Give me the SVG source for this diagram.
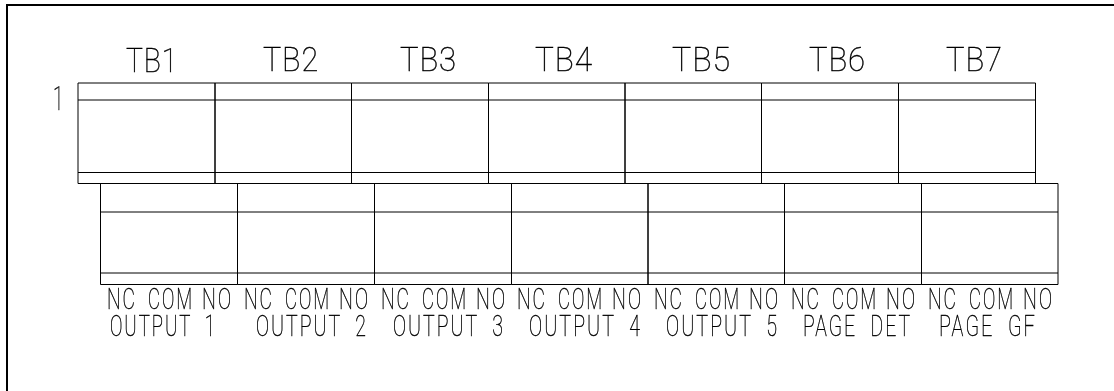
<svg xmlns="http://www.w3.org/2000/svg" width="1114" height="391" viewBox="0 0 1114 391">
<style>
.b{fill:none;stroke:#000;stroke-width:1}
.f{fill:none;stroke:#000;stroke-width:2}
text{font-family:Roboto,"Liberation Sans",sans-serif;font-weight:100;fill:#000;stroke:#000;stroke-width:.45;filter:url(#gray)}
.t{font-size:34px;letter-spacing:1px}
.s{font-size:29px;letter-spacing:3px;word-spacing:10px}
</style>
<defs><filter id="gray" x="-20%" y="-20%" width="140%" height="140%" color-interpolation-filters="sRGB"><feOffset dx="0" dy="0"/></filter></defs>
<rect width="1114" height="391" fill="#fff"/>
<g id="frame"><path class="f" d="M1114 5H7V391"/></g>
<text id="row-label" class="t" x="53" y="110" textLength="11" lengthAdjust="spacingAndGlyphs">1</text>
<g id="connectors"/>
<g id="TB1"><path class="b" d="M78 83H215V183.5H78ZM78 100H215M78 172.5H215"/><text class="t" x="126" y="72" textLength="52" lengthAdjust="spacingAndGlyphs">TB1</text></g>
<g id="TB2"><path class="b" d="M215 83H351.5V183.5H215ZM215 100H351.5M215 172.5H351.5"/><text class="t" x="263" y="71" textLength="56" lengthAdjust="spacingAndGlyphs">TB2</text></g>
<g id="TB3"><path class="b" d="M351.5 83H488.5V183.5H351.5ZM351.5 100H488.5M351.5 172.5H488.5"/><text class="t" x="400" y="71" textLength="57" lengthAdjust="spacingAndGlyphs">TB3</text></g>
<g id="TB4"><path class="b" d="M488.5 83H625V183.5H488.5ZM488.5 100H625M488.5 172.5H625"/><text class="t" x="535" y="71" textLength="58" lengthAdjust="spacingAndGlyphs">TB4</text></g>
<g id="TB5"><path class="b" d="M625 83H761.5V183.5H625ZM625 100H761.5M625 172.5H761.5"/><text class="t" x="672" y="71" textLength="59" lengthAdjust="spacingAndGlyphs">TB5</text></g>
<g id="TB6"><path class="b" d="M761.5 83H898.5V183.5H761.5ZM761.5 100H898.5M761.5 172.5H898.5"/><text class="t" x="809" y="71" textLength="57" lengthAdjust="spacingAndGlyphs">TB6</text></g>
<g id="TB7"><path class="b" d="M898.5 83H1035.5V183.5H898.5ZM898.5 100H1035.5M898.5 172.5H1035.5"/><text class="t" x="946" y="71" textLength="57" lengthAdjust="spacingAndGlyphs">TB7</text></g>
<g id="relay1"><path class="b" d="M100.5 183.5H237.5V284.5H100.5ZM100.5 212H237.5M100.5 273H237.5"/>
<text class="s" x="107" y="309" textLength="30" lengthAdjust="spacingAndGlyphs">NC</text><text class="s" x="148" y="309" textLength="46" lengthAdjust="spacingAndGlyphs">COM</text><text class="s" x="202" y="309" textLength="31" lengthAdjust="spacingAndGlyphs">NO</text>
<text class="s" x="110" y="336" textLength="107" lengthAdjust="spacingAndGlyphs">OUTPUT 1</text></g>
<g id="relay2"><path class="b" d="M237.5 183.5H374.5V284.5H237.5ZM237.5 212H374.5M237.5 273H374.5"/>
<text class="s" x="244" y="309" textLength="30" lengthAdjust="spacingAndGlyphs">NC</text><text class="s" x="285" y="309" textLength="46" lengthAdjust="spacingAndGlyphs">COM</text><text class="s" x="339" y="309" textLength="31" lengthAdjust="spacingAndGlyphs">NO</text>
<text class="s" x="256" y="336" textLength="112" lengthAdjust="spacingAndGlyphs">OUTPUT 2</text></g>
<g id="relay3"><path class="b" d="M374.5 183.5H511.5V284.5H374.5ZM374.5 212H511.5M374.5 273H511.5"/>
<text class="s" x="381" y="309" textLength="30" lengthAdjust="spacingAndGlyphs">NC</text><text class="s" x="422" y="309" textLength="46" lengthAdjust="spacingAndGlyphs">COM</text><text class="s" x="476" y="309" textLength="31" lengthAdjust="spacingAndGlyphs">NO</text>
<text class="s" x="393" y="336" textLength="112" lengthAdjust="spacingAndGlyphs">OUTPUT 3</text></g>
<g id="relay4"><path class="b" d="M511.5 183.5H648V284.5H511.5ZM511.5 212H648M511.5 273H648"/>
<text class="s" x="517" y="309" textLength="30" lengthAdjust="spacingAndGlyphs">NC</text><text class="s" x="558" y="309" textLength="46" lengthAdjust="spacingAndGlyphs">COM</text><text class="s" x="612" y="309" textLength="31" lengthAdjust="spacingAndGlyphs">NO</text>
<text class="s" x="529" y="336" textLength="113" lengthAdjust="spacingAndGlyphs">OUTPUT 4</text></g>
<g id="relay5"><path class="b" d="M648 183.5H784.5V284.5H648ZM648 212H784.5M648 273H784.5"/>
<text class="s" x="654" y="309" textLength="30" lengthAdjust="spacingAndGlyphs">NC</text><text class="s" x="695" y="309" textLength="46" lengthAdjust="spacingAndGlyphs">COM</text><text class="s" x="749" y="309" textLength="31" lengthAdjust="spacingAndGlyphs">NO</text>
<text class="s" x="666" y="336" textLength="113" lengthAdjust="spacingAndGlyphs">OUTPUT 5</text></g>
<g id="relay6"><path class="b" d="M784.5 183.5H921.5V284.5H784.5ZM784.5 212H921.5M784.5 273H921.5"/>
<text class="s" x="791" y="309" textLength="30" lengthAdjust="spacingAndGlyphs">NC</text><text class="s" x="832" y="309" textLength="46" lengthAdjust="spacingAndGlyphs">COM</text><text class="s" x="886" y="309" textLength="31" lengthAdjust="spacingAndGlyphs">NO</text>
<text class="s" x="803" y="336" textLength="109" lengthAdjust="spacingAndGlyphs">PAGE DET</text></g>
<g id="relay7"><path class="b" d="M921.5 183.5H1058V284.5H921.5ZM921.5 212H1058M921.5 273H1058"/>
<text class="s" x="928" y="309" textLength="30" lengthAdjust="spacingAndGlyphs">NC</text><text class="s" x="969" y="309" textLength="46" lengthAdjust="spacingAndGlyphs">COM</text><text class="s" x="1023" y="309" textLength="31" lengthAdjust="spacingAndGlyphs">NO</text>
<text class="s" x="939" y="336" textLength="98" lengthAdjust="spacingAndGlyphs">PAGE GF</text></g>
</svg>
